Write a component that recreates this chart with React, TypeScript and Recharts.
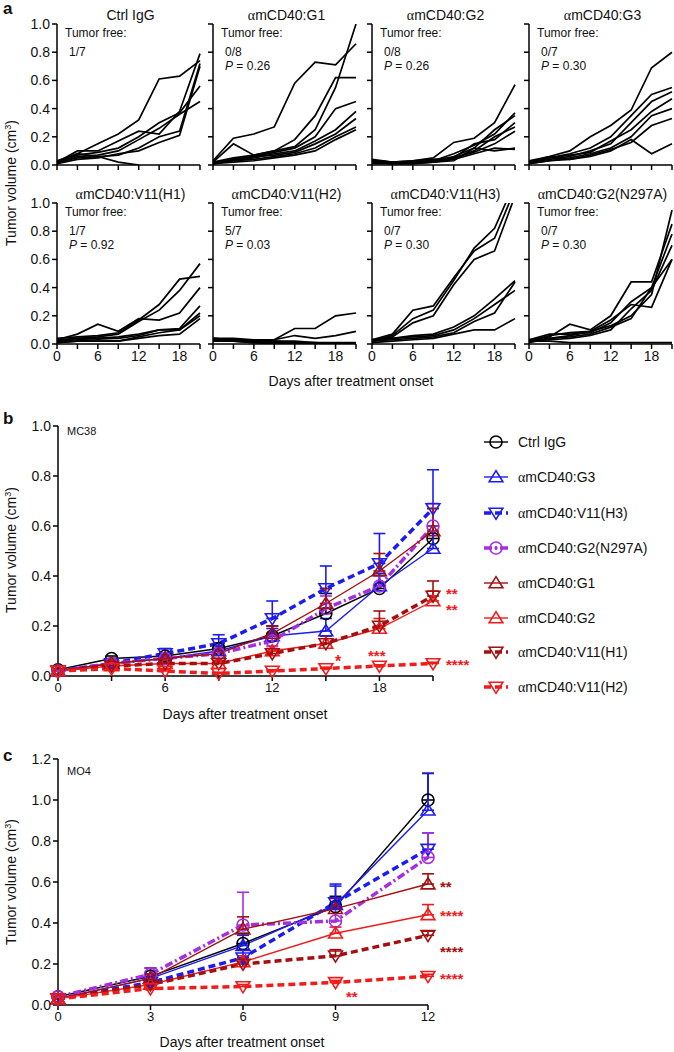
import React from 'react';
import { LineChart, Line, XAxis, YAxis, ErrorBar } from 'recharts';

const FONT = '"Liberation Sans", Arial, Helvetica, sans-serif';
const SERIF = '"Liberation Serif", "DejaVu Serif", serif';

// ---- panel a: individual MC38 tumours ----
const daysA = [0, 3, 6, 9, 12, 15, 18, 21];

const ctrlIgGMice = [
  [0.03, 0.08, 0.15, 0.22, 0.32, 0.61, 0.63, 0.74],
  [0.02, 0.10, 0.10, 0.17, 0.24, 0.22, 0.38, 0.79],
  [0.02, 0.07, 0.09, 0.12, 0.20, 0.30, 0.37, 0.56],
  [0.01, 0.06, 0.07, 0.10, 0.18, 0.26, 0.36, 0.45],
  [0.02, 0.05, 0.06, 0.07, 0.12, 0.20, 0.24, 0.72],
  [0.01, 0.04, 0.05, 0.08, 0.10, 0.16, 0.21, 0.70],
  [0.02, 0.08, 0.06, 0.02, 0.0, null, null, null],
];
const g1Mice = [
  [0.03, 0.19, 0.22, 0.27, 0.58, 0.73, 0.71, 0.86],
  [0.02, 0.15, 0.07, 0.10, 0.13, 0.25, 0.55, 1.0],
  [0.02, 0.05, 0.07, 0.10, 0.18, 0.35, 0.62, 0.62],
  [0.01, 0.04, 0.06, 0.09, 0.12, 0.20, 0.40, 0.45],
  [0.01, 0.03, 0.05, 0.08, 0.10, 0.17, 0.25, 0.38],
  [0.01, 0.04, 0.06, 0.07, 0.09, 0.15, 0.22, 0.33],
  [0.02, 0.03, 0.04, 0.06, 0.08, 0.12, 0.20, 0.27],
  [0.01, 0.02, 0.03, 0.05, 0.07, 0.10, 0.18, 0.25],
];
const g2Mice = [
  [0.04, 0.02, 0.03, 0.05, 0.16, 0.19, 0.30, 0.57],
  [0.03, 0.02, 0.02, 0.03, 0.08, 0.14, 0.22, 0.37],
  [0.03, 0.02, 0.02, 0.03, 0.06, 0.12, 0.25, 0.35],
  [0.02, 0.02, 0.03, 0.04, 0.05, 0.15, 0.18, 0.30],
  [0.02, 0.01, 0.02, 0.03, 0.05, 0.10, 0.20, 0.27],
  [0.03, 0.02, 0.02, 0.02, 0.04, 0.08, 0.12, 0.11],
  [0.02, 0.01, 0.01, 0.02, 0.03, 0.12, 0.10, 0.12],
  [0.01, 0.01, 0.01, 0.02, 0.05, 0.09, 0.15, 0.24],
];
const g3Mice = [
  [0.03, 0.06, 0.10, 0.20, 0.28, 0.39, 0.69, 0.80],
  [0.02, 0.05, 0.08, 0.12, 0.20, 0.35, 0.50, 0.55],
  [0.02, 0.04, 0.06, 0.10, 0.15, 0.30, 0.45, 0.52],
  [0.02, 0.05, 0.07, 0.09, 0.17, 0.25, 0.38, 0.47],
  [0.01, 0.03, 0.05, 0.08, 0.12, 0.20, 0.35, 0.40],
  [0.02, 0.06, 0.04, 0.06, 0.10, 0.18, 0.08, 0.15],
  [0.01, 0.03, 0.04, 0.07, 0.11, 0.16, 0.28, 0.33],
];
const v11h1Mice = [
  [0.03, 0.07, 0.14, 0.09, 0.18, 0.17, 0.22, 0.40],
  [0.04, 0.05, 0.06, 0.08, 0.17, 0.28, 0.46, 0.48],
  [0.03, 0.04, 0.05, 0.07, 0.16, 0.24, 0.38, 0.57],
  [0.02, 0.04, 0.04, 0.05, 0.07, 0.10, 0.11, 0.27],
  [0.02, 0.03, 0.04, 0.04, 0.06, 0.10, 0.10, 0.22],
  [0.01, 0.02, 0.03, 0.02, 0.05, 0.08, 0.10, 0.20],
  [0.01, 0.02, 0.02, 0.02, 0.04, 0.06, 0.07, 0.18],
];
const v11h2Mice = [
  [0.04, 0.04, 0.03, 0.03, 0.11, 0.11, 0.20, 0.22],
  [0.03, 0.03, 0.03, 0.03, 0.06, 0.04, 0.06, 0.09],
  [0.04, 0.03, 0.02, 0.02, 0.02, 0.01, 0.01, 0.01],
  [0.03, 0.02, 0.01, 0.01, 0.0, 0.0, 0.0, 0.0],
  [0.03, 0.03, 0.02, 0.01, 0.01, 0.0, 0.0, 0.0],
  [0.02, 0.02, 0.01, 0.0, 0.0, 0.0, 0.0, 0.0],
  [0.04, 0.03, 0.02, 0.02, 0.01, 0.01, 0.0, 0.0],
];
const v11h3Mice = [
  [0.03, 0.07, 0.24, 0.27, 0.47, 0.66, 0.75, 1.10],
  [0.02, 0.06, 0.18, 0.24, 0.45, 0.68, 0.82, 1.15],
  [0.03, 0.05, 0.15, 0.20, 0.42, 0.60, 0.66, 1.05],
  [0.02, 0.04, 0.06, 0.07, 0.12, 0.20, 0.32, 0.45],
  [0.03, 0.04, 0.05, 0.06, 0.10, 0.18, 0.28, 0.38],
  [0.02, 0.03, 0.04, 0.05, 0.08, 0.16, 0.22, 0.44],
  [0.01, 0.02, 0.03, 0.04, 0.07, 0.10, 0.10, 0.18],
];
const g2n297aMice = [
  [0.03, 0.05, 0.14, 0.10, 0.20, 0.44, 0.44, 0.85],
  [0.02, 0.06, 0.08, 0.09, 0.17, 0.28, 0.26, 0.60],
  [0.03, 0.07, 0.07, 0.08, 0.15, 0.30, 0.40, 0.78],
  [0.02, 0.04, 0.06, 0.09, 0.13, 0.20, 0.35, 0.95],
  [0.01, 0.04, 0.05, 0.07, 0.12, 0.18, 0.40, 0.60],
  [0.02, 0.03, 0.04, 0.06, 0.10, 0.25, 0.38, 0.70],
  [0.02, 0.02, 0.01, 0.01, 0.01, 0.01, 0.01, 0.01],
];

// group names without the leading alpha (alpha drawn in serif)
const groupNames = ['Ctrl IgG', 'mCD40:G1', 'mCD40:G2', 'mCD40:G3', 'mCD40:V11(H1)', 'mCD40:V11(H2)', 'mCD40:V11(H3)', 'mCD40:G2(N297A)'];
const tumorFree = ['1/7', '0/8', '0/8', '0/7', '1/7', '5/7', '0/7', '0/7'];
const pValues = [null, '0.26', '0.26', '0.30', '0.92', '0.03', '0.30', '0.30'];
const yTicksA = [0, 0.2, 0.4, 0.6, 0.8, 1.0];

// ---- panel b: MC38 means ----
const daysB = [0, 3, 6, 9, 12, 15, 18, 21];
const mc38Ctrl = [0.025, 0.07, 0.08, 0.11, 0.16, 0.25, 0.35, 0.55];
const mc38CtrlErr = [0.005, 0.01, 0.01, 0.02, 0.04, 0.08, 0.06, 0.05];
const mc38G3 = [0.02, 0.05, 0.07, 0.10, 0.16, 0.18, 0.36, 0.51];
const mc38G3Err = [0.005, 0.01, 0.01, 0.02, 0.03, 0.05, 0.05, 0.06];
const mc38V11H3 = [0.02, 0.05, 0.09, 0.13, 0.23, 0.35, 0.45, 0.67];
const mc38V11H3Err = [0.005, 0.01, 0.02, 0.035, 0.07, 0.09, 0.12, 0.155];
const mc38N297A = [0.02, 0.05, 0.07, 0.09, 0.14, 0.27, 0.36, 0.6];
const mc38N297AErr = [0.005, 0.01, 0.01, 0.02, 0.03, 0.05, 0.04, 0.09];
const mc38G1 = [0.02, 0.05, 0.07, 0.09, 0.17, 0.29, 0.42, 0.58];
const mc38G1Err = [0.005, 0.01, 0.015, 0.02, 0.03, 0.06, 0.07, 0.09];
const mc38G2 = [0.02, 0.04, 0.05, 0.05, 0.1, 0.13, 0.19, 0.3];
const mc38G2Err = [0.005, 0.005, 0.01, 0.01, 0.02, 0.03, 0.04, 0.04];
const mc38V11H1 = [0.02, 0.04, 0.05, 0.05, 0.09, 0.13, 0.2, 0.32];
const mc38V11H1Err = [0.005, 0.005, 0.01, 0.01, 0.02, 0.03, 0.06, 0.06];
const mc38V11H2 = [0.02, 0.03, 0.02, 0.01, 0.02, 0.03, 0.04, 0.05];
const mc38V11H2Err = [0.005, 0.005, 0.005, 0.005, 0.005, 0.005, 0.005, 0.005];

// ---- panel c: MO4 means ----
const daysC = [0, 3, 6, 9, 12];
const mo4Ctrl = [0.04, 0.14, 0.3, 0.48, 1.0];
const mo4CtrlErr = [0.01, 0.04, 0.05, 0.05, 0.13];
const mo4G3 = [0.03, 0.13, 0.29, 0.49, 0.95];
const mo4G3Err = [0.01, 0.02, 0.05, 0.09, 0.18];
const mo4V11H3 = [0.03, 0.11, 0.23, 0.5, 0.76];
const mo4V11H3Err = [0.01, 0.02, 0.04, 0.09, 0.08];
const mo4N297A = [0.04, 0.15, 0.39, 0.41, 0.72];
const mo4N297AErr = [0.01, 0.03, 0.16, 0.06, 0.12];
const mo4G1 = [0.03, 0.13, 0.37, 0.47, 0.59];
const mo4G1Err = [0.01, 0.02, 0.06, 0.05, 0.05];
const mo4G2 = [0.03, 0.1, 0.21, 0.35, 0.44];
const mo4G2Err = [0.01, 0.02, 0.03, 0.03, 0.05];
const mo4V11H1 = [0.03, 0.1, 0.2, 0.24, 0.34];
const mo4V11H1Err = [0.01, 0.02, 0.02, 0.03, 0.02];
const mo4V11H2 = [0.03, 0.08, 0.09, 0.11, 0.14];
const mo4V11H2Err = [0.01, 0.01, 0.01, 0.01, 0.01];

const BLUE = '#1c1cf0';
const PURPLE = '#a52ee0';
const DARKRED = '#a40f0f';
const RED = '#f01c1c';

// series styles (legend order); names without the leading alpha
const seriesStyle = [
  { key: 'ctrl', name: 'Ctrl IgG', alpha: false, color: '#000', dash: undefined, width: 1.4, marker: 'circle' },
  { key: 'g3', name: 'mCD40:G3', alpha: true, color: BLUE, dash: undefined, width: 1.4, marker: 'up' },
  { key: 'v11h3', name: 'mCD40:V11(H3)', alpha: true, color: BLUE, dash: '7 4', width: 3.5, marker: 'down' },
  { key: 'n297a', name: 'mCD40:G2(N297A)', alpha: true, color: PURPLE, dash: '8 3 2 3', width: 3.5, marker: 'circleDot' },
  { key: 'g1', name: 'mCD40:G1', alpha: true, color: DARKRED, dash: undefined, width: 1.4, marker: 'up' },
  { key: 'g2', name: 'mCD40:G2', alpha: true, color: RED, dash: undefined, width: 1.4, marker: 'up' },
  { key: 'v11h1', name: 'mCD40:V11(H1)', alpha: true, color: DARKRED, dash: '7 4', width: 3.5, marker: 'down' },
  { key: 'v11h2', name: 'mCD40:V11(H2)', alpha: true, color: RED, dash: '7 4', width: 3.5, marker: 'down' },
];

const mc38Series = { ctrl: [mc38Ctrl, mc38CtrlErr], g3: [mc38G3, mc38G3Err], v11h3: [mc38V11H3, mc38V11H3Err], n297a: [mc38N297A, mc38N297AErr], g1: [mc38G1, mc38G1Err], g2: [mc38G2, mc38G2Err], v11h1: [mc38V11H1, mc38V11H1Err], v11h2: [mc38V11H2, mc38V11H2Err] };
const mo4Series = { ctrl: [mo4Ctrl, mo4CtrlErr], g3: [mo4G3, mo4G3Err], v11h3: [mo4V11H3, mo4V11H3Err], n297a: [mo4N297A, mo4N297AErr], g1: [mo4G1, mo4G1Err], g2: [mo4G2, mo4G2Err], v11h1: [mo4V11H1, mo4V11H1Err], v11h2: [mo4V11H2, mo4V11H2Err] };

function buildRows(days: number[], series: any) {
  return days.map((d, i) => {
    const row: any = { day: d };
    Object.keys(series).forEach((k) => {
      row[k] = series[k][0][i];
      row[k + 'Err'] = [0, series[k][1][i]];
    });
    return row;
  });
}

function Marker({ cx, cy, kind, color, s = 6 }: any) {
  if (cx == null || cy == null || isNaN(cy)) return null;
  const st = { stroke: color, strokeWidth: 1.6, fill: 'none', strokeDasharray: 'none' };
  if (kind === 'circle') return <circle cx={cx} cy={cy} r={s} {...st} />;
  if (kind === 'circleDot')
    return (
      <g>
        <circle cx={cx} cy={cy} r={s} {...st} />
        <circle cx={cx} cy={cy} r={1.7} fill={color} />
      </g>
    );
  if (kind === 'up')
    return <polygon points={`${cx},${cy - s * 1.05} ${cx + s * 1.15},${cy + s * 0.8} ${cx - s * 1.15},${cy + s * 0.8}`} {...st} />;
  return <polygon points={`${cx},${cy + s * 1.05} ${cx + s * 1.15},${cy - s * 0.8} ${cx - s * 1.15},${cy - s * 0.8}`} {...st} />;
}

const axisStroke = { stroke: '#000', strokeWidth: 1.5 };

// ---- small multiples ----
const colLeft = [57, 213, 372, 529];
const rowTop = [24, 203];
const PW = 143;
const PH = 141;
const YW = 45;
const MT = 12;

function SmallPlot({ mice, idx }: { mice: (number | null)[][]; idx: number }) {
  const col = idx % 4;
  const row = Math.floor(idx / 4);
  const rows = daysA.map((d, j) => {
    const r: any = { day: d };
    mice.forEach((m, k) => (r['m' + k] = m[j]));
    return r;
  });
  const left = colLeft[col];
  const top = rowTop[row];
  return (
    <div style={{ position: 'absolute', left: left - YW, top: top - MT }}>
      <LineChart width={YW + PW + 8} height={PH + MT + 24} data={rows} margin={{ top: MT, right: 8, bottom: 0, left: 0 }}>
        <XAxis
          dataKey="day"
          type="number"
          domain={[0, 21]}
          ticks={daysA}
          interval={0}
          height={24}
          tickSize={5}
          axisLine={axisStroke}
          tickLine={axisStroke}
          tick={{ fontSize: 14, fill: '#111', fontFamily: FONT }}
          tickFormatter={(v: number) => (row === 1 && v % 6 === 0 && v < 21 ? String(v) : '')}
        />
        <YAxis
          type="number"
          domain={[0, 1]}
          allowDataOverflow
          ticks={yTicksA}
          interval={0}
          width={YW}
          tickSize={5}
          axisLine={axisStroke}
          tickLine={axisStroke}
          tick={{ fontSize: 14, fill: '#111', fontFamily: FONT }}
          tickFormatter={(v: number) => (col === 0 ? v.toFixed(1) : '')}
        />
        {mice.map((_, k) => (
          <Line key={k} dataKey={'m' + k} type="linear" stroke="#000" strokeWidth={1.7} dot={false} isAnimationActive={false} />
        ))}
      </LineChart>
    </div>
  );
}

function T({ x, y, size = 14, children, anchor = 'left', style = {} }: any) {
  const tx = anchor === 'center' ? '-50%' : anchor === 'right' ? '-100%' : '0';
  return (
    <div
      style={{
        position: 'absolute',
        left: x,
        top: y,
        transform: `translate(${tx}, -50%)`,
        fontSize: size,
        fontFamily: FONT,
        color: '#111',
        whiteSpace: 'nowrap',
        lineHeight: 1,
        ...style,
      }}
    >
      {children}
    </div>
  );
}

function Alpha() {
  return <span style={{ fontFamily: SERIF }}>α</span>;
}

function YLabel({ x, y }: any) {
  return (
    <div
      style={{
        position: 'absolute',
        left: x,
        top: y,
        transform: 'translate(-50%, -50%) rotate(-90deg)',
        fontSize: 14,
        fontFamily: FONT,
        color: '#111',
        whiteSpace: 'nowrap',
        lineHeight: 1,
      }}
    >
      Tumor volume (cm<sup style={{ fontSize: 9 }}>3</sup>)
    </div>
  );
}

function MeanChart({ rows, days, ymax, yTicks, left, top, pw, ph, xLabelAll }: any) {
  return (
    <div style={{ position: 'absolute', left: left - 50, top: top - 10 }}>
      <LineChart width={50 + pw + 20} height={10 + ph + 26} data={rows} margin={{ top: 10, right: 20, bottom: 0, left: 0 }}>
        <XAxis
          dataKey="day"
          type="number"
          domain={[0, days[days.length - 1]]}
          ticks={days}
          interval={0}
          height={26}
          tickSize={5}
          axisLine={axisStroke}
          tickLine={axisStroke}
          tick={{ fontSize: 13, fill: '#111', fontFamily: FONT }}
          tickFormatter={(v: number) => (xLabelAll || (v % 6 === 0 && v < 21) ? String(v) : '')}
        />
        <YAxis
          type="number"
          domain={[0, ymax]}
          ticks={yTicks}
          interval={0}
          width={50}
          tickSize={5}
          axisLine={axisStroke}
          tickLine={axisStroke}
          tick={{ fontSize: 14, fill: '#111', fontFamily: FONT }}
          tickFormatter={(v: number) => v.toFixed(1)}
        />
        {seriesStyle.map((s) => (
          <Line
            key={s.key}
            dataKey={s.key}
            type="linear"
            stroke={s.color}
            strokeWidth={s.width}
            strokeDasharray={s.dash}
            isAnimationActive={false}
            dot={(p: any) => <Marker key={s.key + p.index} cx={p.cx} cy={p.cy} kind={s.marker} color={s.color} />}
          >
            <ErrorBar dataKey={s.key + 'Err'} direction="y" width={6} stroke={s.color} strokeWidth={1.6} />
          </Line>
        ))}
      </LineChart>
    </div>
  );
}

const legendY = [442, 477, 513, 548, 583, 618, 652, 687];

export default function App() {
  const groups = [ctrlIgGMice, g1Mice, g2Mice, g3Mice, v11h1Mice, v11h2Mice, v11h3Mice, g2n297aMice];
  const rowsB = buildRows(daysB, mc38Series);
  const rowsC = buildRows(daysC, mo4Series);
  const star = (color: string) => ({ color, fontWeight: 'bold' });
  return (
    <div style={{ position: 'absolute', left: 0, top: 0, width: 674, height: 1052, background: '#fff', overflow: 'hidden' }}>
      {/* panel a */}
      <T x={3} y={8} size={17} style={{ fontWeight: 'bold' }}>a</T>
      {groups.map((g, i) => (
        <SmallPlot key={i} mice={g} idx={i} />
      ))}
      {groupNames.map((n, i) => {
        const col = i % 4;
        const row = Math.floor(i / 4);
        const top = row === 0 ? 0 : 179;
        return (
          <React.Fragment key={n}>
            <T x={colLeft[col] + PW / 2 + 2} y={top + 15} anchor="center" size={14}>
              {i > 0 && <Alpha />}
              {n}
            </T>
            <T x={colLeft[col] + 8} y={top + 33} size={12}>Tumor free:</T>
            <T x={colLeft[col] + 12} y={top + 52} size={12}>{tumorFree[i]}</T>
            {pValues[i] && (
              <T x={colLeft[col] + 12} y={top + 66} size={12}>
                <i>P</i> = {pValues[i]}
              </T>
            )}
          </React.Fragment>
        );
      })}
      <T x={351} y={381} anchor="center" size={14}>Days after treatment onset</T>
      <YLabel x={11} y={183} />

      {/* panel b */}
      <T x={3} y={418} size={17} style={{ fontWeight: 'bold' }}>b</T>
      <MeanChart rows={rowsB} days={daysB} ymax={1} yTicks={[0, 0.2, 0.4, 0.6, 0.8, 1.0]} left={58} top={426} pw={375} ph={250} />
      <T x={67} y={431} size={11}>MC38</T>
      <T x={245} y={714} anchor="center" size={14}>Days after treatment onset</T>
      <YLabel x={11} y={550} />
      <T x={446} y={593} size={15} style={star(RED)}>**</T>
      <T x={446} y={609} size={15} style={star(RED)}>**</T>
      <T x={335} y={662} size={16} style={star(RED)}>*</T>
      <T x={368} y={655} size={15} style={star(RED)}>***</T>
      <T x={446} y={664} size={15} style={star(RED)}>****</T>
      {seriesStyle.map((s, i) => (
        <div key={s.key} style={{ position: 'absolute', left: 480, top: legendY[i] - 10, height: 20, display: 'flex', alignItems: 'center' }}>
          <svg width={32} height={20}>
            <line x1={4} y1={10} x2={28} y2={10} stroke={s.color} strokeWidth={s.width} strokeDasharray={s.dash} />
            <Marker cx={16} cy={10} kind={s.marker} color={s.color} />
          </svg>
          <span style={{ marginLeft: 6, fontSize: 14, fontFamily: FONT, color: '#111' }}>
            {s.alpha && <Alpha />}
            {s.name}
          </span>
        </div>
      ))}

      {/* panel c */}
      <T x={3} y={755} size={17} style={{ fontWeight: 'bold' }}>c</T>
      <MeanChart rows={rowsC} days={daysC} ymax={1.2} yTicks={[0, 0.2, 0.4, 0.6, 0.8, 1.0, 1.2]} left={58} top={759} pw={370} ph={246} xLabelAll />
      <T x={67} y={771} size={11}>MO4</T>
      <T x={242} y={1042} anchor="center" size={14}>Days after treatment onset</T>
      <YLabel x={11} y={882} />
      <T x={440} y={886} size={15} style={star(DARKRED)}>**</T>
      <T x={440} y={915} size={15} style={star(RED)}>****</T>
      <T x={440} y={951} size={15} style={star(DARKRED)}>****</T>
      <T x={440} y={978} size={15} style={star(RED)}>****</T>
      <T x={346} y={996} size={15} style={star(RED)}>**</T>
    </div>
  );
}
